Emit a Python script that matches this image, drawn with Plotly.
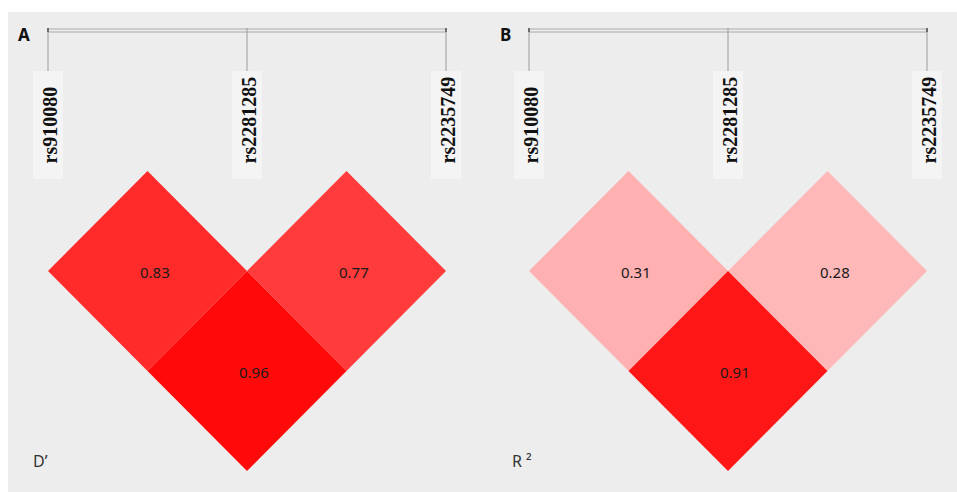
import plotly.graph_objects as go

# SNP markers and pairwise linkage disequilibrium values
snps = ["rs910080", "rs2281285", "rs2235749"]
pairs = [(0, 1), (1, 2), (0, 2)]
dprime_values = [0.83, 0.77, 0.96]
r2_values = [0.31, 0.28, 0.91]
panel_letters = ["A", "B"]
panel_measures = ["D\u2019", "R \u00b2"]

# canvas geometry (pixels)
W, H = 957, 492
UNIT_X = 199        # pixel distance between neighbouring SNPs
UNIT_Y = 200        # pixel height of one diamond
X0 = 48             # pixel x of the first SNP in the first panel
Y0 = 171            # pixel y of the top of the first diamond row
PANEL_SHIFT = 481   # pixel offset of the second panel


def ux(px):
    return (px - X0) / UNIT_X


def uy(py):
    return (py - Y0) / UNIT_Y


def ld_colour(v):
    c = round(255 * (1 - v))
    return f"rgb(255,{c},{c})"


fig = go.Figure()
shapes = []
annotations = []

# grey canvas
shapes.append(dict(type="rect", xref="x", yref="y", x0=ux(8), x1=ux(W + 2),
                   y0=uy(12), y1=uy(H + 2), fillcolor="#EDEDED", line_width=0,
                   layer="below"))

panels = [dprime_values, r2_values]
for p, values in enumerate(panels):
    off = p * PANEL_SHIFT / UNIT_X

    # diamonds
    for (i, j), v in zip(pairs, values):
        d = j - i
        cx = off + (i + j) / 2
        cy = d / 2
        fig.add_trace(go.Scatter(
            x=[cx, cx + 0.5, cx, cx - 0.5, cx],
            y=[cy - 0.5, cy, cy + 0.5, cy, cy - 0.5],
            mode="lines", fill="toself", fillcolor=ld_colour(v),
            line=dict(width=0, color=ld_colour(v)), hoverinfo="skip",
            showlegend=False))
        annotations.append(dict(x=cx, y=cy, xref="x", yref="y", text=f"{v:.2f}",
                                showarrow=False, xshift=7, yshift=-1,
                                font=dict(family="Noto Sans", size=15,
                                          color="#1a1a1a")))

    # marker bracket
    xl, xr = off, off + len(snps) - 1
    shapes.append(dict(type="rect", xref="x", yref="y", x0=xl, x1=xr,
                       y0=uy(29), y1=uy(32), line=dict(color="#A8A8A8", width=1),
                       fillcolor="rgba(0,0,0,0)"))
    for k, name in enumerate(snps):
        sx = off + k
        shapes.append(dict(type="line", xref="x", yref="y", x0=sx, x1=sx,
                           y0=uy(28), y1=uy(71), line=dict(color="#9A9A9A", width=1)))
        shapes.append(dict(type="rect", xref="x", yref="y", x0=sx - 15 / UNIT_X,
                           x1=sx + 15 / UNIT_X, y0=uy(71), y1=uy(179),
                           fillcolor="#F4F4F4", line_width=0))
        annotations.append(dict(x=sx, y=uy(166), xref="x", yref="y", text=name,
                                showarrow=False, textangle=-90, xanchor="center",
                                yanchor="bottom", xshift=1,
                                font=dict(family="Liberation Serif", size=20,
                                          color="#111111", weight="bold")))
    for sx in (xl, xr):
        shapes.append(dict(type="line", xref="x", yref="y", x0=sx, x1=sx,
                           y0=uy(28), y1=uy(32), line=dict(color="#555555", width=1.5)))

    # panel letter and measure label
    annotations.append(dict(x=ux(16 + p * (PANEL_SHIFT + 1)), y=uy(34), xref="x", yref="y",
                            text=panel_letters[p], showarrow=False,
                            xanchor="left",
                            font=dict(family="Noto Sans", size=17, color="#111111",
                                      weight="bold")))
    annotations.append(dict(x=ux(31 + p * (PANEL_SHIFT - 2)), y=uy(461), xref="x", yref="y",
                            text=panel_measures[p], showarrow=False, xanchor="left",
                            font=dict(family="Noto Sans", size=16, color="#333333")))

fig.update_layout(
    width=W, height=H, margin=dict(l=0, r=0, t=0, b=0),
    paper_bgcolor="white", plot_bgcolor="white",
    shapes=shapes, annotations=annotations, showlegend=False,
    xaxis=dict(range=[ux(0), ux(W)], visible=False, fixedrange=True),
    yaxis=dict(range=[uy(H), uy(0)], visible=False, fixedrange=True),
)

fig.write_html("out.html")
